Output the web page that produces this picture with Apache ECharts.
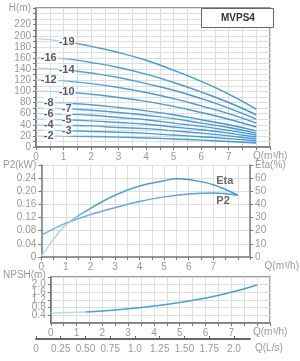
<!DOCTYPE html>
<html>
<head>
<meta charset="utf-8">
<script src="https://cdn.jsdelivr.net/npm/echarts@6/dist/echarts.min.js"></script>
<style>
  html, body { margin: 0; padding: 0; background: #fff; }
  #chart { width: 300px; height: 361px; }
</style>
</head>
<body>
<div id="chart"></div>
<script>
// Q (m3/h) sampling of the head curves
var flow = [0, 1, 2, 3, 4, 5, 6, 7, 8];

// head curves, one per stage count
var stages = ['19', '16', '14', '12', '10', '8', '7', '6', '5', '4', '3', '2'];
var head19 = [195, 190, 181, 170, 156, 138, 118, 95, 68];
var head16 = [161, 159, 152, 143, 131, 116, 99, 80, 58];
var head14 = [142, 139, 133, 125, 114, 102, 87, 70, 50];
var head12 = [121, 119, 114, 107, 98, 87, 74, 60, 43];
var head10 = [101, 99, 95, 89, 82, 73, 62, 50, 36];
var head8 = [81, 79, 76, 71, 65, 58, 49, 40, 29];
var head7 = [70, 69, 66, 62, 57, 51, 43, 35, 25];
var head6 = [60, 59, 57, 53, 49, 43, 37, 30, 21.5];
var head5 = [50, 49, 47, 44, 41, 36, 31, 25, 18];
var head4 = [40, 39, 38, 35, 33, 29, 25, 20, 14.4];
var head3 = [30, 29.5, 28, 26.5, 24.5, 21.5, 18.5, 15, 10.8];
var head2 = [19.5, 19.3, 18.8, 17.8, 16.3, 14.5, 12.4, 10, 7.2];
var heads = [head19, head16, head14, head12, head10, head8, head7, head6, head5, head4, head3, head2];
// where along Q the stage number sits
var stageLabelQ = [1.13, 0.48, 1.13, 0.48, 1.13, 0.48, 1.13, 0.48, 1.13, 0.48, 1.13, 0.48];

// power and efficiency
var p2 = [0.066, 0.103, 0.129, 0.150, 0.169, 0.183, 0.192, 0.195, 0.188];
var etaFlow = [0, 0.5, 1, 2, 3, 4, 5, 5.5, 6, 7, 8];
var eta = [0.5, 13.5, 24.5, 37, 47, 54, 58, 59.6, 58.9, 55, 47];

// NPSH
var npsh = [0.52, 0.56, 0.63, 0.74, 0.89, 1.07, 1.3, 1.6, 1.98];

// second flow scale in L/s
var lsTicks = ['0', '0.25', '0.50', '0.75', '1.0', '1.25', '1.50', '1.75', '2.0'];

var txtGray = '#999';
var axisGray = '#777';
var gridGray = '#dedede';
var font = 'Liberation Sans, Arial, sans-serif';

var chart = echarts.init(document.getElementById('chart'));

function pairs(xs, ys) {
  return xs.map(function (x, i) { return [x, ys[i]]; });
}
function headAt(arr, q) {
  var i = Math.floor(q), t = q - i;
  return arr[i] + (arr[i + 1] - arr[i]) * t;
}
function grad(stops) {
  return new echarts.graphic.LinearGradient(0, 0, 1, 0, stops.map(function (s) {
    return { offset: s[0], color: s[1] };
  }));
}

function qAxis(idx) {
  return {
    type: 'value', gridIndex: idx, min: 0, max: 8.5, interval: 0.5,
    axisLine: { show: true, lineStyle: { color: axisGray, width: 1.5 } },
    axisTick: { show: true, length: 3, lineStyle: { color: axisGray } },
    axisLabel: {
      color: txtGray, fontSize: 10, margin: 5, fontFamily: font,
      formatter: function (v) { return (v % 1 === 0 && v < 8) ? String(v) : ''; }
    },
    splitLine: { show: true, lineStyle: { color: gridGray, width: 1 } },
    name: 'Q(m³/h)', nameLocation: 'end', nameGap: -17,
    nameTextStyle: { color: txtGray, fontSize: 10, fontFamily: font, align: 'left', verticalAlign: 'top', padding: [4, 0, 0, 0] }
  };
}

function yAxisBase(idx, max, interval, name, fmt, pos) {
  var right = pos === 'right';
  return {
    type: 'value', gridIndex: idx, min: 0, max: max, interval: interval, position: pos,
    axisLine: { show: true, lineStyle: { color: axisGray, width: 1.5 } },
    axisTick: { show: true, length: 3, lineStyle: { color: axisGray } },
    axisLabel: { color: txtGray, fontSize: 10, margin: 5, fontFamily: font, formatter: fmt },
    splitLine: { show: !right, lineStyle: { color: gridGray, width: 1 } },
    name: name, nameLocation: 'end', nameGap: 0,
    nameTextStyle: {
      color: txtGray, fontSize: 10, fontFamily: font, verticalAlign: 'middle',
      align: right ? 'left' : 'right', padding: right ? [0, 0, 0, 5] : [0, 5, 0, 0]
    }
  };
}

var curveColor = grad([[0, '#bcdcf4'], [0.11, '#a3cff0'], [0.17, '#4fa1e0'], [1, '#3f95da']]);

var series = [];
heads.forEach(function (h, i) {
  series.push({
    type: 'line', xAxisIndex: 0, yAxisIndex: 0, smooth: true, symbol: 'none',
    data: pairs(flow, h),
    lineStyle: { width: 1.4, color: curveColor }, z: 3
  });
});
series.push({
  type: 'scatter', xAxisIndex: 0, yAxisIndex: 0, symbolSize: 1, z: 5,
  itemStyle: { color: 'rgba(0,0,0,0)' },
  data: stages.map(function (s, i) {
    var q = stageLabelQ[i];
    return [q, headAt(heads[i], q), s];
  }),
  label: {
    show: true, position: 'inside', color: '#333', fontSize: 11, fontWeight: 'bold', fontFamily: font,
    backgroundColor: '#fff', padding: [0, 1, 0, 0],
    formatter: function (p) { return '-' + p.data[2]; }
  }
});

series.push({
  type: 'line', xAxisIndex: 1, yAxisIndex: 1, smooth: 0.4, symbol: 'none',
  data: pairs(flow, p2),
  lineStyle: { width: 1.5, color: grad([[0, '#6fb4e8'], [1, '#4a9ee0']]) }, z: 3
});
series.push({
  type: 'line', xAxisIndex: 1, yAxisIndex: 2, smooth: 0.4, symbol: 'none',
  data: pairs(etaFlow, eta),
  lineStyle: { width: 1.5, color: grad([[0, '#b7daf3'], [0.14, '#a2cfef'], [0.24, '#4fa1e0'], [1, '#3f95da']]) }, z: 3
});
series.push({
  type: 'scatter', xAxisIndex: 1, yAxisIndex: 1, symbolSize: 1, z: 5,
  itemStyle: { color: 'rgba(0,0,0,0)' },
  data: [[7.47, 0.232, 'Eta'], [7.4, 0.172, 'P2']],
  label: {
    show: true, position: 'inside', color: '#444', fontSize: 11, fontWeight: 'bold', fontFamily: font,
    formatter: function (p) { return p.data[2]; }
  }
});

series.push({
  type: 'line', xAxisIndex: 2, yAxisIndex: 3, smooth: true, symbol: 'none',
  data: pairs(flow, npsh),
  lineStyle: { width: 1.6, color: grad([[0, '#b5d9f3'], [0.18, '#b5d9f3'], [0.182, '#4a9ee0'], [1, '#4a9ee0']]) }, z: 3
});

var option = {
  animation: false,
  backgroundColor: '#fff',
  title: {
    text: 'MVPS4', left: 201, top: 8,
    padding: [5, 19, 5, 20], borderColor: '#666', borderWidth: 1, backgroundColor: '#fff',
    textStyle: { fontSize: 10, fontWeight: 'bold', color: '#333', fontFamily: 'Liberation Sans Narrow, ' + font }
  },
  grid: [
    { left: 36, top: 8, width: 234, height: 139, show: true, borderColor: axisGray, borderWidth: 1.5 },
    { left: 36, top: 165, width: 234, height: 92 },
    { left: 36, top: 277, width: 234, height: 46, show: true, borderColor: axisGray, borderWidth: 1.5 },
    { left: 36, top: 330, width: 214, height: 9 }
  ],
  xAxis: [
    qAxis(0), qAxis(1), qAxis(2),
    {
      type: 'value', gridIndex: 3, min: 0, max: 2.162, interval: 0.25,
      axisLine: { show: true, lineStyle: { color: '#666', width: 2 } },
      axisTick: { show: true, inside: true, length: 3, lineStyle: { color: '#666' } },
      axisLabel: {
        color: txtGray, fontSize: 10, margin: 5, fontFamily: font, showMaxLabel: false,
        formatter: function (v) { var i = Math.round(v / 0.25); return lsTicks[i] !== undefined ? lsTicks[i] : ''; }
      },
      splitLine: { show: false },
      name: 'Q(L/s)', nameLocation: 'end', nameGap: 5,
      nameTextStyle: { color: txtGray, fontSize: 10, fontFamily: font, align: 'left', verticalAlign: 'top', padding: [4, 0, 0, 0] }
    }
  ],
  yAxis: [
    yAxisBase(0, 250, 10, 'H(m)', function (v) { return (v % 20 === 0 && v <= 220) ? String(v) : ''; }, 'left'),
    yAxisBase(1, 0.28, 0.04, 'P2(kW)', function (v) { return v === 0 ? '0' : (v < 0.27 ? v.toFixed(2) : ''); }, 'left'),
    yAxisBase(1, 70, 10, 'Eta(%)', function (v) { return v < 65 ? String(v) : ''; }, 'right'),
    yAxisBase(2, 2.4, 0.4, 'NPSH(m)', function (v) { return v === 0 ? '0' : (v < 2.3 ? v.toFixed(1) : ''); }, 'left'),
    { type: 'value', gridIndex: 3, show: false, min: 0, max: 1 }
  ],
  series: series
};

chart.setOption(option);
</script>
</body>
</html>
